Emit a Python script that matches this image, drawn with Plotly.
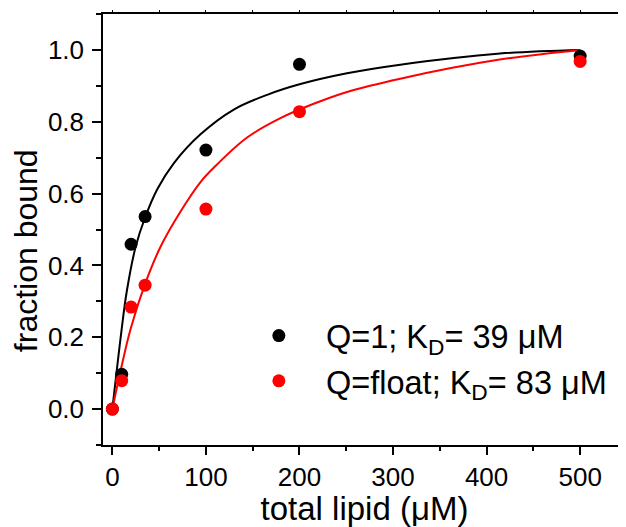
import plotly.graph_objects as go

# Measured data points
lipid = [0, 10, 20, 35, 100, 200, 500]
bound_q1 = [0.0, 0.097, 0.459, 0.536, 0.721, 0.960, 0.983]
bound_qfloat = [0.0, 0.079, 0.284, 0.345, 0.557, 0.828, 0.968]

# Fitted curves
fit_x_q1 = [0, 9.6, 15.3, 24.9, 34.8, 48, 65.8, 94.2, 129.8, 165.4, 201, 250.8, 307.7, 414.4, 500]
fit_y_q1 = [0.0, 0.215, 0.326, 0.452, 0.532, 0.612, 0.685, 0.765, 0.834, 0.875, 0.905, 0.935, 0.959, 0.99, 1.0]
fit_x_qf = [0, 8.9, 19.5, 34.8, 51.5, 72.9, 94.2, 108.4, 144, 179.6, 215.2, 250.8, 307.7, 414, 500]
fit_y_qf = [0.0, 0.108, 0.223, 0.347, 0.452, 0.550, 0.632, 0.672, 0.756, 0.810, 0.850, 0.883, 0.92, 0.973, 1.0]

label_q1 = "\u00a0\u00a0\u00a0Q=1; K<sub>D</sub>= 39 \u03bcM"
label_qf = "\u00a0\u00a0\u00a0Q=float; K<sub>D</sub>= 83 \u03bcM"
x_title = "total lipid (\u03bcM)"
y_title = "fraction bound"

FONT = "Liberation Sans, Arial, sans-serif"

fig = go.Figure()
fig.add_trace(go.Scatter(x=fit_x_q1, y=fit_y_q1, mode="lines",
                         line=dict(color="black", width=2, shape="spline", smoothing=1.0),
                         showlegend=False, hoverinfo="skip"))
fig.add_trace(go.Scatter(x=fit_x_qf, y=fit_y_qf, mode="lines",
                         line=dict(color="#ff0000", width=2, shape="spline", smoothing=1.0),
                         showlegend=False, hoverinfo="skip"))
fig.add_trace(go.Scatter(x=lipid, y=bound_q1, mode="markers", marker=dict(color="black", size=13),
                         name=label_q1, legendgroup="a"))
fig.add_trace(go.Scatter(x=lipid, y=bound_qfloat, mode="markers", marker=dict(color="#ff0000", size=13),
                         name=label_qf, legendgroup="b"))
# invisible trace for top axis ticks
fig.add_trace(go.Scatter(x=[0], y=[0], xaxis="x2", mode="markers", marker=dict(opacity=0),
                         showlegend=False, hoverinfo="skip"))

# page body has an 8px margin: figure spans 8..626 horizontally and 8..527 vertically
fig.update_layout(
    width=618, height=519,
    margin=dict(l=95, r=0, t=6, b=82),
    paper_bgcolor="white", plot_bgcolor="white",
    font=dict(family=FONT, color="black", size=26),
    showlegend=True,
    legend=dict(x=0.298, y=0.318, xanchor="left", yanchor="top", bgcolor="rgba(0,0,0,0)",
                font=dict(size=32.5, family=FONT), tracegroupgap=0, itemsizing="trace"),
    xaxis=dict(range=[-10, 549], tickmode="linear", tick0=0, dtick=100, automargin=False,
               showgrid=False, zeroline=False, showline=True, linecolor="black", linewidth=1.5,
               ticks="outside", ticklen=8, tickwidth=1.5, tickcolor="black",
               tickfont=dict(size=26),
               minor=dict(dtick=50, tick0=0, ticks="outside", ticklen=4, tickwidth=1.5, tickcolor="black"),
               title=dict(text=x_title, font=dict(size=33), standoff=12)),
    xaxis2=dict(range=[-10, 549], overlaying="x", side="top", tickmode="linear", tick0=0, dtick=100,
                automargin=False,
                showgrid=False, zeroline=False, showline=True, linecolor="black", linewidth=1.5,
                ticks="outside", ticklen=2, tickwidth=1, tickcolor="black", showticklabels=False,
                minor=dict(dtick=50, tick0=0, ticks="outside", ticklen=2, tickwidth=1, tickcolor="black")),
    yaxis=dict(range=[-0.1, 1.1], tickmode="linear", tick0=0, dtick=0.2, tickformat=".1f",
               automargin=False,
               showgrid=False, zeroline=False, showline=True, linecolor="black", linewidth=1.5,
               ticks="outside", ticklen=9, tickwidth=1.5, tickcolor="black",
               tickfont=dict(size=26), ticklabelstandoff=3,
               minor=dict(dtick=0.1, tick0=0, ticks="outside", ticklen=5, tickwidth=1.5, tickcolor="black")),
    annotations=[dict(text=y_title, xref="paper", yref="paper", x=-0.147, y=0.45,
                      xanchor="center", yanchor="middle", textangle=-90, showarrow=False,
                      font=dict(size=32, family=FONT, color="black"))],
)

fig.write_html("out.html")
